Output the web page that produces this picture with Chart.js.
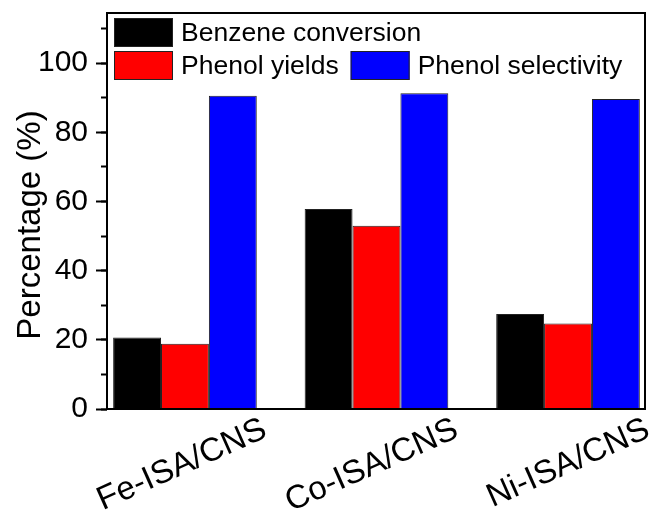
<!DOCTYPE html>
<html>
<head>
<meta charset="utf-8">
<script src="https://cdn.jsdelivr.net/npm/chart.js@4.4.1/dist/chart.umd.min.js"></script>
<style>
  html, body { margin: 0; padding: 0; background: #ffffff; }
  #wrap { width: 649px; height: 515px; }
</style>
</head>
<body>
<div id="wrap"><canvas id="chart" width="649" height="515"></canvas></div>
<script>
// Catalysts on the x axis
const categories = ['Fe-ISA/CNS', 'Co-ISA/CNS', 'Ni-ISA/CNS'];
// Series names
const seriesNames = ['Benzene conversion', 'Phenol yields', 'Phenol selectivity'];
// Series values (%)
const benzeneConversion = [20.7, 57.8, 27.5];
const phenolYields = [18.9, 53.0, 24.7];
const phenolSelectivity = [90.6, 91.3, 89.6];
// Axis settings
const yMin = 0;
const yMax = 114.5;
const yMajorStep = 20;
const yMinorStep = 10;
const yTitle = 'Percentage (%)';
const seriesColors = ['#000000', '#ff0000', '#0000ff'];

const FONT = '"Liberation Sans", Arial, Helvetica, sans-serif';
Chart.defaults.font.family = FONT;
Chart.defaults.color = '#000000';

const toPoints = vals => vals.map((v, i) => ({ x: i + 1, y: v }));

// Keep tick labels from pushing the plotting area inward
function noLabelPadding(scale) {
  scale.paddingTop = 0;
  scale.paddingBottom = 0;
  scale.paddingLeft = 0;
  scale.paddingRight = 0;
}

// Black frame around the plotting area
const frameBox = {
  id: 'frameBox',
  afterDatasetsDraw(chart) {
    const { ctx, chartArea: a } = chart;
    ctx.save();
    ctx.strokeStyle = '#000000';
    ctx.lineWidth = 2;
    ctx.strokeRect(a.left, a.top, a.right - a.left, a.bottom - a.top);
    ctx.restore();
  }
};

// Vertical axis title, drawn along the left edge
const axisTitle = {
  id: 'axisTitle',
  afterDraw(chart) {
    const { ctx, chartArea: a } = chart;
    ctx.save();
    ctx.font = '33px ' + FONT;
    ctx.fillStyle = '#000000';
    ctx.textAlign = 'center';
    ctx.textBaseline = 'alphabetic';
    ctx.translate(40, (a.top + a.bottom) / 2 + 14);
    ctx.rotate(-Math.PI / 2);
    ctx.fillText(yTitle, 0, 0);
    ctx.restore();
  }
};

// Two-row legend inside the top-left corner of the plot
const insetLegend = {
  id: 'insetLegend',
  afterDatasetsDraw(chart) {
    const { ctx, chartArea: a } = chart;
    const ds = chart.data.datasets;
    const boxW = 59, boxH = 29, gap = 8, rowH = 33, itemGap = 12;
    const rows = [[0], [1, 2]];
    ctx.save();
    ctx.font = '26.5px ' + FONT;
    ctx.textBaseline = 'middle';
    ctx.textAlign = 'left';
    rows.forEach((row, r) => {
      let x = a.left + 7;
      const y = a.top + 5 + r * rowH;
      row.forEach(i => {
        ctx.fillStyle = ds[i].backgroundColor;
        ctx.fillRect(x, y, boxW, boxH);
        ctx.strokeStyle = '#222222';
        ctx.lineWidth = 1;
        ctx.strokeRect(x + 0.5, y + 0.5, boxW - 1, boxH - 1);
        ctx.fillStyle = '#000000';
        ctx.fillText(ds[i].label, x + boxW + gap, y + boxH / 2 + 1);
        x += boxW + gap + ctx.measureText(ds[i].label).width + itemGap;
      });
    });
    ctx.restore();
  }
};

const seriesData = [benzeneConversion, phenolYields, phenolSelectivity];

new Chart(document.getElementById('chart'), {
  type: 'bar',
  data: {
    datasets: seriesData.map((vals, k) => ({
      label: seriesNames[k],
      data: toPoints(vals),
      backgroundColor: seriesColors[k],
      borderColor: '#222222',
      borderWidth: 1,
      categoryPercentage: 0.75,
      barPercentage: 1.0
    }))
  },
  options: {
    responsive: false,
    animation: false,
    devicePixelRatio: 1,
    layout: { padding: { top: 13, right: 4, bottom: 0, left: 0 } },
    plugins: {
      legend: { display: false },
      tooltip: { enabled: false }
    },
    scales: {
      x: {
        type: 'linear',
        bounds: 'data',
        min: 0.593,
        max: 3.402,
        offset: false,
        afterBuildTicks(scale) {
          scale.ticks = categories.map((_, i) => ({ value: i + 1 }));
        },
        afterFit(scale) { scale.height = 106; noLabelPadding(scale); },
        border: { display: false },
        grid: { display: false, drawTicks: false, offset: false },
        ticks: {
          autoSkip: false,
          minRotation: 24,
          maxRotation: 24,
          padding: 1,
          labelOffset: 80,
          color: '#000000',
          font: { size: 33 },
          callback: v => categories[Math.round(v) - 1] ?? ''
        }
      },
      y: {
        position: 'left',
        weight: 1,
        bounds: 'data',
        min: yMin,
        max: yMax,
        afterFit(scale) { scale.width = 107; noLabelPadding(scale); },
        border: { display: false },
        grid: { drawOnChartArea: false, tickLength: 11, tickWidth: 2, tickColor: '#000000' },
        ticks: {
          stepSize: yMajorStep,
          includeBounds: false,
          padding: 8,
          color: '#000000',
          font: { size: 30 }
        }
      },
      yMinor: {
        type: 'linear',
        position: 'left',
        weight: 0,
        bounds: 'data',
        min: yMin,
        max: yMax,
        afterFit(scale) { scale.width = 0; noLabelPadding(scale); },
        border: { display: false },
        grid: { drawOnChartArea: false, tickLength: 6, tickWidth: 2, tickColor: '#000000' },
        ticks: { stepSize: yMinorStep, includeBounds: false, display: false }
      }
    }
  },
  plugins: [frameBox, insetLegend, axisTitle]
});
</script>
</body>
</html>
